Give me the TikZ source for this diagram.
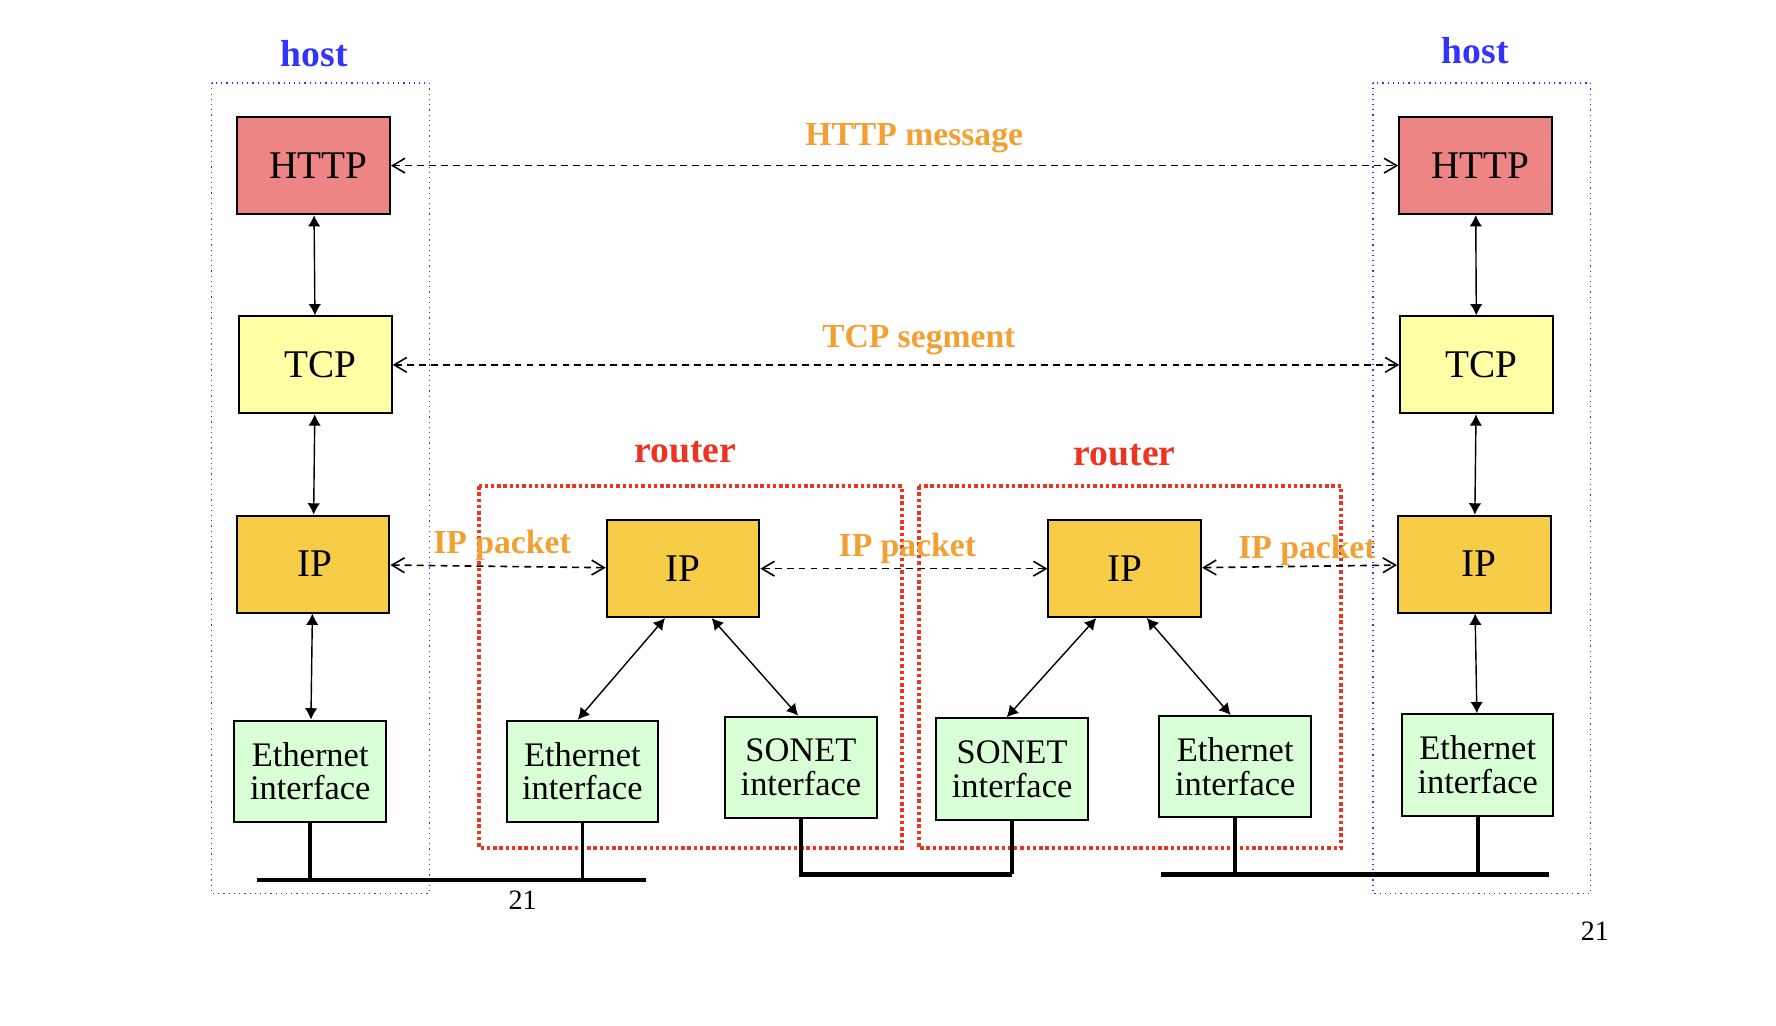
\documentclass[tikz,border=0pt]{standalone}
\usepackage{fontspec}
\setmainfont{Liberation Serif}
\usetikzlibrary{arrows.meta}
\definecolor{httpred}{HTML}{EE8585}
\definecolor{tcpyellow}{HTML}{FFFFA6}
\definecolor{ipgold}{HTML}{F7CD47}
\definecolor{nicgreen}{HTML}{D8FFD6}
\definecolor{hostblue}{HTML}{3333FF}
\definecolor{routerred}{HTML}{EE3322}
\definecolor{msgorange}{HTML}{F2A034}
\begin{document}
\begin{tikzpicture}[x=0.01cm, y=-0.01cm,
    layer/.style={draw, line width=0.5pt, inner sep=0pt, minimum width=1.34cm,
      minimum height=0.85cm, font=\fontsize{9.8}{10}\selectfont},
    http/.style={layer, fill=httpred},
    tcp/.style={layer, fill=tcpyellow},
    ip/.style={layer, fill=ipgold},
    nic/.style={layer, fill=nicgreen, align=center, minimum width=1.33cm,
      minimum height=0.89cm, font=\fontsize{8.6}{8.4}\selectfont},
    hostlabel/.style={anchor=base, text=hostblue, font=\fontsize{9.4}{10}\selectfont\bfseries},
    routerlabel/.style={anchor=base, text=routerred, font=\fontsize{9.4}{10}\selectfont\bfseries},
    msg/.style={anchor=base, text=msgorange, font=\fontsize{8.4}{9}\selectfont\bfseries},
    pagenum/.style={anchor=base, font=\fontsize{7}{8}\selectfont},
    hostbox/.style={draw=hostblue, line width=0.3pt, densely dotted},
    routerbox/.style={draw=routerred, line width=1pt, dash pattern=on 0.3mm off 0.25mm},
    link/.style={<->, >={Latex[length=1mm,width=1.1mm]}, line width=0.35pt},
    peer/.style={<->, >={Straight Barb[length=1.1mm,width=1.3mm]}, line width=0.4pt,
      dash pattern=on 0.6mm off 0.45mm},
    bus/.style={line width=1.15pt},
    drop/.style={line width=0.9pt}]
  \useasboundingbox (0,0) rectangle (1560,901);
  % frames
  \draw[hostbox] (186,73) rectangle (377,785);
  \draw[hostbox] (1206,73) rectangle (1397,785);
  \draw[routerbox] (421,427) rectangle (792,745);
  \draw[routerbox] (807,427) rectangle (1178,745);
  % labels
  \node[hostlabel] (hl1) at (276,58) {host};
  \node[hostlabel] (hl2) at (1296,56) {host};
  \node[routerlabel] (rl1) at (602,406) {router};
  \node[routerlabel] (rl2) at (988,409) {router};
  \node[msg] (m1) at (803,128) {HTTP message};
  \node[msg] (m2) at (807,305) {TCP segment};
  \node[msg] (m3) at (441,486) {IP packet};
  \node[msg] (m4) at (797,489) {IP packet};
  \node[msg] (m5) at (1148,491) {IP packet};
  \node[pagenum] (pg1) at (459,799) {21};
  \node[pagenum] (pg2) at (1401,826) {21};
  % layers
  \draw
    (275.5,145.5) node[http] (hh1){\hspace{2.5pt}HTTP}
    (277,320.5) node[tcp] (ht1){\hspace{2.5pt}TCP}
    (275,495.5) node[ip] (hi1){\hspace{1pt}IP}
    (272.5,677.5) node[nic] (he1){Ethernet\\interface}
    (600,499.5) node[ip] (ri1){IP}
    (511.5,677.5) node[nic] (re1){Ethernet\\interface}
    (703.5,674) node[nic] (rs1){SONET\\interface}
    (988,499.5) node[ip] (ri2){IP}
    (889,675.5) node[nic] (rs2){SONET\\interface}
    (1085,673.5) node[nic] (re2){Ethernet\\interface}
    (1296,145.5) node[http] (hh2){\hspace{2.5pt}HTTP}
    (1297,320.5) node[tcp] (ht2){\hspace{2.5pt}TCP}
    (1295,495.5) node[ip] (hi2){\hspace{2.3pt}IP}
    (1298,672) node[nic] (he2){Ethernet\\interface};
  % stacks
  \begin{scope}[link]
    \draw (hh1) to (ht1);
    \draw (ht1) to (hi1);
    \draw (hi1) to (he1);
    \draw (hh2) to (ht2);
    \draw (ht2) to (hi2);
    \draw (hi2) to (he2);
    \draw (ri1.250) to (re1.95);
    \draw (ri1.300) to (rs1.93);
    \draw (ri2.240) to (rs2.96);
    \draw (ri2.294) to (re2.95);
  \end{scope}
  % peers
  \begin{scope}[peer]
    \draw (hh1) to (hh2);
    \draw (ht1) to (ht2);
    \draw (hi1) to (ri1);
    \draw (ri1) to (ri2);
    \draw (ri2) to (hi2);
  \end{scope}
  % links
  \coordinate (lan1w) at (226,773);
  \coordinate (lan1e) at (567,773);
  \coordinate (sonw) at (702,768);
  \coordinate (sone) at (889,768);
  \coordinate (lan2w) at (1020,768);
  \coordinate (lan2e) at (1361,768);
  \begin{scope}[drop]
    \draw (he1) to (he1 |- lan1w);
    \draw (re1) to (re1 |- lan1w);
    \draw (rs1) to (rs1 |- sonw);
    \draw (rs2) to (rs2 |- sonw);
    \draw (re2) to (re2 |- lan2w);
    \draw (he2) to (he2 |- lan2w);
  \end{scope}
  \draw[bus] (lan1w) -- (lan1e);
  \draw[bus] (sonw) -- (sone);
  \draw[bus] (lan2w) -- (lan2e);
\end{tikzpicture}
\end{document}
